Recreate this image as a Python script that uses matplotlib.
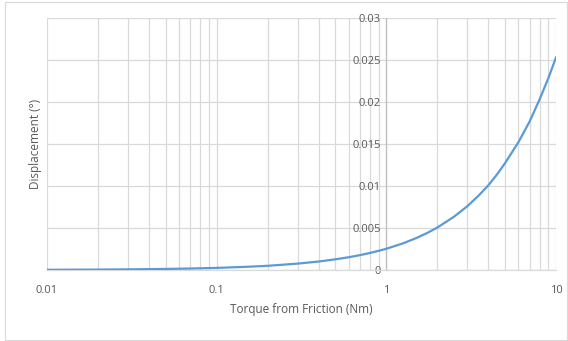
import matplotlib
matplotlib.use("Agg")
import matplotlib.pyplot as plt
from matplotlib.ticker import FixedLocator, NullFormatter, FixedFormatter
from matplotlib.patches import Rectangle

torque = [0.01, 0.02, 0.03, 0.05, 0.07, 0.1, 0.15, 0.2, 0.3, 0.4, 0.5, 0.6, 0.7, 0.8, 0.9,
          1.0, 1.25, 1.5, 1.75, 2.0, 2.5, 3.0, 3.5, 4.0, 4.5, 5.0, 6.0, 7.0, 8.0, 9.0, 10.0]
displacement = [0.000025, 0.00005, 0.000076, 0.000127, 0.000177, 0.00025, 0.00038, 0.0005,
                0.00076, 0.00101, 0.00127, 0.00152, 0.00177, 0.00203, 0.00228,
                0.00253, 0.00316, 0.0038, 0.00443, 0.00506, 0.00633, 0.00759, 0.00886,
                0.0101, 0.0114, 0.0127, 0.0152, 0.0177, 0.0203, 0.0228, 0.0253]

x_ticks = [0.01, 0.1, 1, 10]
x_tick_labels = ["0.01", "0.1", "1", "10"]
y_ticks = [0, 0.005, 0.01, 0.015, 0.02, 0.025, 0.03]
y_tick_labels = ["0", "0.005", "0.01", "0.015", "0.02", "0.025", "0.03"]

plt.rcParams['font.family'] = ['Open Sans', 'DejaVu Sans']
text_color = "#595959"
grid_color = "#d9d9d9"

fig = plt.figure(figsize=(5.68, 3.41), dpi=100)
fig.patches.append(Rectangle((5/568, 1/341), 562/568, 338/341, transform=fig.transFigure,
                             fill=False, edgecolor="#d9d9d9", linewidth=0.8))
ax = fig.add_axes([47/568, 1 - 270/341, (556 - 47)/568, (270 - 18)/341])

ax.plot(torque, displacement, color="#5B9BD5", linewidth=1.6, zorder=3)
ax.set_xscale("log")
ax.set_xlim(0.01, 10)
ax.set_ylim(0, 0.03)

ax.xaxis.set_major_locator(FixedLocator(x_ticks))
ax.xaxis.set_major_formatter(FixedFormatter(x_tick_labels))
minors = [m * 10.0**e for e in (-2, -1, 0) for m in range(2, 10)]
ax.xaxis.set_minor_locator(FixedLocator(minors))
ax.xaxis.set_minor_formatter(NullFormatter())
ax.yaxis.set_major_locator(FixedLocator(y_ticks))
ax.yaxis.set_major_formatter(FixedFormatter(y_tick_labels))

ax.grid(True, which="both", axis="x", color=grid_color, linewidth=0.9)
ax.grid(True, which="major", axis="y", color=grid_color, linewidth=0.9)
ax.set_axisbelow(True)

for s in ("top", "right"):
    ax.spines[s].set_visible(False)
ax.spines["left"].set_position(("data", 1))
ax.spines["left"].set_color("#bfbfbf")
ax.spines["left"].set_linewidth(0.9)
ax.spines["left"].set_zorder(2)
ax.spines["bottom"].set_color(grid_color)
ax.spines["bottom"].set_linewidth(0.9)

ax.tick_params(axis="both", which="both", length=0, labelsize=8, labelcolor=text_color)
ax.tick_params(axis="x", pad=11)
ax.tick_params(axis="y", pad=4)

ax.set_xlabel("Torque from Friction (Nm)", fontsize=8.5, color=text_color, labelpad=5)
fig.text(35/568, 1 - 144/341, "Displacement (°)", rotation=90, ha="center", va="center",
         fontsize=8.5, color=text_color)

fig.savefig("out.png", dpi=100)
